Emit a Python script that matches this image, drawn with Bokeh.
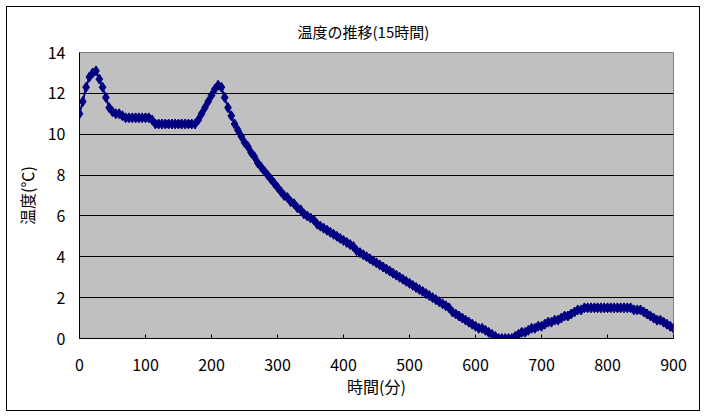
from bokeh.plotting import figure
from bokeh.embed import file_html
from bokeh.resources import INLINE
from bokeh.models import FixedTicker, Range1d

# ---- data ----
minutes = list(range(0, 901, 5))
temps = [
    11.0, 11.6, 12.3, 12.8, 13.0, 13.1, 12.7, 12.3, 11.8, 11.3,   # 0-45
    11.1, 11.0, 11.0, 10.9, 10.8, 10.8, 10.8, 10.8, 10.8, 10.8,   # 50-95
    10.8, 10.8, 10.7, 10.5, 10.5, 10.5, 10.5, 10.5, 10.5, 10.5,   # 100-145
    10.5, 10.5, 10.5, 10.5, 10.5, 10.5, 10.7, 11.0, 11.3, 11.6,   # 150-195
    11.9, 12.2, 12.4, 12.3, 11.8, 11.3, 10.9, 10.5, 10.2, 9.9,    # 200-245
    9.6, 9.4, 9.1, 8.9, 8.6, 8.4, 8.2, 8.0, 7.8, 7.6,             # 250-295
    7.4, 7.2, 7.0, 6.9, 6.7, 6.6, 6.4, 6.3, 6.1, 6.0,             # 300-345
    5.9, 5.8, 5.6, 5.5, 5.4, 5.3, 5.2, 5.1, 5.0, 4.9,             # 350-395
    4.8, 4.7, 4.6, 4.5, 4.3, 4.2, 4.1, 4.0, 3.9, 3.8,             # 400-445
    3.7, 3.6, 3.5, 3.4, 3.3, 3.2, 3.1, 3.0, 2.9, 2.8,             # 450-495
    2.7, 2.6, 2.5, 2.4, 2.3, 2.2, 2.1, 2.0, 1.9, 1.8,             # 500-545
    1.7, 1.6, 1.5, 1.3, 1.2, 1.1, 1.0, 0.9, 0.8, 0.7,             # 550-595
    0.6, 0.5, 0.5, 0.4, 0.3, 0.2, 0.1, 0.0, 0.0, 0.0,             # 600-645
    0.0, 0.0, 0.1, 0.2, 0.3, 0.3, 0.4, 0.5, 0.5, 0.6,             # 650-695
    0.6, 0.7, 0.8, 0.8, 0.9, 0.9, 1.0, 1.1, 1.1, 1.2,             # 700-745
    1.3, 1.4, 1.4, 1.5, 1.5, 1.5, 1.5, 1.5, 1.5, 1.5,             # 750-795
    1.5, 1.5, 1.5, 1.5, 1.5, 1.5, 1.5, 1.5, 1.4, 1.4,             # 800-845
    1.4, 1.3, 1.2, 1.1, 1.0, 0.9, 0.9, 0.8, 0.7, 0.6,             # 850-895
    0.5,                                                          # 900
]
x_ticks = [0, 100, 200, 300, 400, 500, 600, 700, 800, 900]
y_ticks = [0, 2, 4, 6, 8, 10, 12, 14]
title_text = "温度の推移(15時間)"
x_label = "時間(分)"
y_label = "温度(℃)"

FONT = "Noto Sans CJK JP"

p = figure(
    frame_width=594, frame_height=286,
    min_border_left=72, min_border_right=26,
    min_border_top=45, min_border_bottom=72,
    x_range=Range1d(0, 900), y_range=Range1d(0, 14),
    output_backend="svg", toolbar_location=None, tools="",
    title=title_text,
)
p.styles = {"border": "1px solid black", "margin-left": "6px", "margin-top": "6px"}
p.background_fill_color = "#C0C0C0"
p.border_fill_color = "white"
p.outline_line_color = "#808080"
p.outline_line_width = 1

p.title.align = "left"
p.title.offset = 218
p.title.text_font = FONT
p.title.text_font_size = "15px"
p.title.text_font_style = "normal"
p.title.text_color = "black"
p.title.standoff = 21

p.xgrid.visible = False
p.ygrid.grid_line_color = "black"
p.ygrid.grid_line_width = 1
p.ygrid.ticker = FixedTicker(ticks=y_ticks)

p.xaxis.ticker = FixedTicker(ticks=x_ticks)
p.yaxis.ticker = FixedTicker(ticks=y_ticks)
for ax in (p.xaxis[0], p.yaxis[0]):
    ax.axis_line_color = "black"
    ax.major_label_text_font = FONT
    ax.major_label_text_font_size = "16px"
    ax.major_label_text_color = "black"
    ax.axis_label_text_font = FONT
    ax.axis_label_text_font_size = "16px"
    ax.axis_label_text_font_style = "normal"
    ax.axis_label_text_color = "black"
    ax.minor_tick_line_color = None
    ax.major_tick_line_color = "black"

p.xaxis.major_tick_in = 4
p.xaxis.major_tick_out = 0
p.xaxis.major_label_standoff = 20
p.xaxis.axis_label = x_label
p.xaxis.axis_label_standoff = 0

p.yaxis.major_tick_in = 0
p.yaxis.major_tick_out = 0
p.yaxis.major_label_standoff = 14
p.yaxis.axis_label = y_label
p.yaxis.axis_label_standoff = 6

p.line(minutes, temps, line_color="#000080", line_width=2)
p.scatter(minutes, temps, marker="diamond", size=10,
          fill_color="#000080", line_color="#000080")

open("out.html", "w").write(file_html(p, INLINE))
